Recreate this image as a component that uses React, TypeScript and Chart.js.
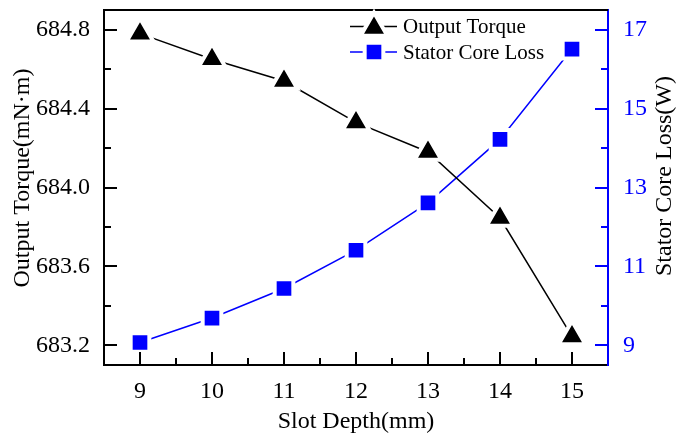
import React, { useEffect, useRef } from 'react';
import { Chart, registerables } from 'chart.js';

Chart.register(...registerables);

// ---- data ----
const slotDepth = [9, 10, 11, 12, 13, 14, 15];
const outputTorque = [684.78, 684.65, 684.54, 684.33, 684.18, 683.845, 683.245];
const statorCoreLoss = [9.07, 9.69, 10.44, 11.41, 12.61, 14.22, 16.51];

const xMajorTicks = [9, 10, 11, 12, 13, 14, 15];
const xMinorTicks = [9.5, 10.5, 11.5, 12.5, 13.5, 14.5];
const torqueMajorTicks = [683.2, 683.6, 684.0, 684.4, 684.8];
const torqueMinorTicks = [683.4, 683.8, 684.2, 684.6];
const lossMajorTicks = [9, 11, 13, 15, 17];
const lossMinorTicks = [10, 12, 14, 16];

const seriesNames = ['Output Torque', 'Stator Core Loss'];
const xTitle = 'Slot Depth(mm)';
const leftTitle = 'Output Torque(mN·m)';
const rightTitle = 'Stator Core Loss(W)';

const FONT = "'Liberation Serif', 'Times New Roman', serif";
const BLUE = '#0000FF';
const BLACK = '#000000';
const W = 677;
const H = 437;
const TRI_R = 15.5;
const RECT_R = 13.2;

function triPath(ctx: CanvasRenderingContext2D, x: number, y: number, r: number) {
  let rad = 0;
  ctx.beginPath();
  ctx.moveTo(x + Math.sin(rad) * r, y - Math.cos(rad) * r);
  rad += (2 * Math.PI) / 3;
  ctx.lineTo(x + Math.sin(rad) * r, y - Math.cos(rad) * r);
  rad += (2 * Math.PI) / 3;
  ctx.lineTo(x + Math.sin(rad) * r, y - Math.cos(rad) * r);
  ctx.closePath();
}

function rectPath(ctx: CanvasRenderingContext2D, x: number, y: number, r: number) {
  const s = r * Math.SQRT1_2;
  ctx.beginPath();
  ctx.rect(x - s, y - s, 2 * s, 2 * s);
}

const decorPlugin = {
  id: 'decor',
  afterDraw(chart: any) {
    const ctx: CanvasRenderingContext2D = chart.ctx;
    const { left, right, top, bottom } = chart.chartArea;
    const xs = chart.scales.x;
    const ys = chart.scales.y;
    const y1 = chart.scales.y1;
    ctx.save();
    // top frame line
    ctx.strokeStyle = BLACK;
    ctx.lineWidth = 2;
    ctx.beginPath();
    ctx.moveTo(left - 1, top);
    ctx.lineTo(right, top);
    ctx.stroke();

    const major = 13;
    const minor = 7;
    ctx.strokeStyle = BLACK;
    xMajorTicks.forEach((v) => {
      const px = Math.round(xs.getPixelForValue(v));
      ctx.beginPath();
      ctx.moveTo(px, bottom);
      ctx.lineTo(px, bottom - major);
      ctx.stroke();
    });
    xMinorTicks.forEach((v) => {
      const px = Math.round(xs.getPixelForValue(v));
      ctx.beginPath();
      ctx.moveTo(px, bottom);
      ctx.lineTo(px, bottom - minor);
      ctx.stroke();
    });
    torqueMajorTicks.forEach((v) => {
      const py = Math.round(ys.getPixelForValue(v));
      ctx.beginPath();
      ctx.moveTo(left, py);
      ctx.lineTo(left + major, py);
      ctx.stroke();
    });
    torqueMinorTicks.forEach((v) => {
      const py = Math.round(ys.getPixelForValue(v));
      ctx.beginPath();
      ctx.moveTo(left, py);
      ctx.lineTo(left + minor, py);
      ctx.stroke();
    });
    ctx.strokeStyle = BLUE;
    lossMajorTicks.forEach((v) => {
      const py = Math.round(y1.getPixelForValue(v));
      ctx.beginPath();
      ctx.moveTo(right, py);
      ctx.lineTo(right - major, py);
      ctx.stroke();
    });
    lossMinorTicks.forEach((v) => {
      const py = Math.round(y1.getPixelForValue(v));
      ctx.beginPath();
      ctx.moveTo(right, py);
      ctx.lineTo(right - minor, py);
      ctx.stroke();
    });

    // vertical axis titles (both read bottom-to-top)
    ctx.fillStyle = BLACK;
    ctx.font = `24px ${FONT}`;
    ctx.textAlign = 'center';
    ctx.textBaseline = 'middle';
    ctx.save();
    ctx.translate(23, 178);
    ctx.rotate(-Math.PI / 2);
    ctx.fillText(leftTitle, 0, 0);
    ctx.restore();
    ctx.save();
    ctx.translate(665, 176);
    ctx.rotate(-Math.PI / 2);
    ctx.fillText(rightTitle, 0, 0);
    ctx.restore();

    // legend
    const rows = [
      { name: seriesNames[0], color: BLACK, shape: 'tri', y: 26.5 },
      { name: seriesNames[1], color: BLUE, shape: 'rect', y: 52 },
    ];
    rows.forEach((r) => {
      ctx.strokeStyle = r.color;
      ctx.lineWidth = 1.5;
      ctx.beginPath();
      ctx.moveTo(350, r.y);
      ctx.lineTo(397, r.y);
      ctx.stroke();
      const cx = 374;
      if (r.shape === 'tri') triPath(ctx, cx, r.y + 1.5, TRI_R);
      else rectPath(ctx, cx, r.y, RECT_R);
      ctx.fillStyle = r.color;
      ctx.fill();
      ctx.strokeStyle = '#FFFFFF';
      ctx.lineWidth = 4;
      ctx.stroke();
      ctx.fillStyle = BLACK;
      ctx.font = `21px ${FONT}`;
      ctx.textAlign = 'left';
      ctx.textBaseline = 'middle';
      ctx.fillText(r.name, 403, r.y + 1);
    });
    ctx.restore();
  },
};

function zeroPad(scale: any) {
  scale.paddingTop = 0;
  scale.paddingBottom = 0;
  scale.paddingLeft = 0;
  scale.paddingRight = 0;
}

export default function App() {
  const ref = useRef<HTMLCanvasElement | null>(null);

  useEffect(() => {
    document.body.style.margin = '0';
    const canvas = ref.current;
    if (!canvas) return;
    const chart = new Chart(canvas, {
      type: 'line',
      data: {
        datasets: [
          {
            label: seriesNames[0],
            data: slotDepth.map((x, i) => ({ x, y: outputTorque[i] })),
            yAxisID: 'y',
            borderColor: BLACK,
            backgroundColor: BLACK,
            borderWidth: 1.5,
            pointStyle: 'triangle',
            pointRadius: TRI_R,
            pointBorderColor: '#FFFFFF',
            pointBorderWidth: 4,
            pointBackgroundColor: BLACK,
            tension: 0,
          },
          {
            label: seriesNames[1],
            data: slotDepth.map((x, i) => ({ x, y: statorCoreLoss[i] })),
            yAxisID: 'y1',
            borderColor: BLUE,
            backgroundColor: BLUE,
            borderWidth: 1.5,
            pointStyle: 'rect',
            pointRadius: RECT_R,
            pointBorderColor: '#FFFFFF',
            pointBorderWidth: 4,
            pointBackgroundColor: BLUE,
            tension: 0,
          },
        ],
      },
      options: {
        animation: false,
        responsive: false,
        devicePixelRatio: 1,
        layout: { autoPadding: false, padding: { top: 10, left: 0, right: 0, bottom: 0 } },
        plugins: { legend: { display: false }, tooltip: { enabled: false } },
        scales: {
          x: {
            type: 'linear',
            position: 'bottom',
            min: 8.5,
            max: 15.5,
            afterBuildTicks: (a: any) => {
              a.ticks = xMajorTicks.map((v) => ({ value: v }));
            },
            afterFit: (s: any) => {
              s.height = H - 365;
              zeroPad(s);
            },
            grid: { display: false, drawTicks: false },
            border: { display: true, color: BLACK, width: 2 },
            ticks: {
              color: BLACK,
              font: { family: FONT, size: 24 },
              padding: 12,
              maxRotation: 0,
              autoSkip: false,
              callback: (v: any) => String(v),
            },
            title: {
              display: true,
              text: xTitle,
              color: BLACK,
              font: { family: FONT, size: 24, lineHeight: 1 },
              padding: { top: 0, bottom: 3 },
            },
          },
          y: {
            type: 'linear',
            position: 'left',
            min: 683.1,
            max: 684.9,
            afterBuildTicks: (a: any) => {
              a.ticks = torqueMajorTicks.map((v) => ({ value: v }));
            },
            afterFit: (s: any) => {
              s.width = 104;
              zeroPad(s);
            },
            grid: { display: false, drawTicks: false },
            border: { display: true, color: BLACK, width: 2 },
            ticks: {
              color: BLACK,
              font: { family: FONT, size: 24 },
              padding: 14,
              autoSkip: false,
              callback: (v: any) => Number(v).toFixed(1),
            },
            title: { display: false },
          },
          y1: {
            type: 'linear',
            position: 'right',
            min: 8.5,
            max: 17.5,
            afterBuildTicks: (a: any) => {
              a.ticks = lossMajorTicks.map((v) => ({ value: v }));
            },
            afterFit: (s: any) => {
              s.width = W - 608;
              zeroPad(s);
            },
            grid: { display: false, drawTicks: false },
            border: { display: true, color: BLUE, width: 2 },
            ticks: {
              color: BLUE,
              font: { family: FONT, size: 24 },
              padding: 15,
              autoSkip: false,
              callback: (v: any) => String(v),
            },
            title: { display: false },
          },
        },
      },
      plugins: [decorPlugin],
    } as any);
    return () => chart.destroy();
  }, []);

  return (
    <div style={{ width: W, height: H, position: 'relative' }}>
      <canvas ref={ref} width={W} height={H} style={{ display: 'block', width: W, height: H }} />
    </div>
  );
}
